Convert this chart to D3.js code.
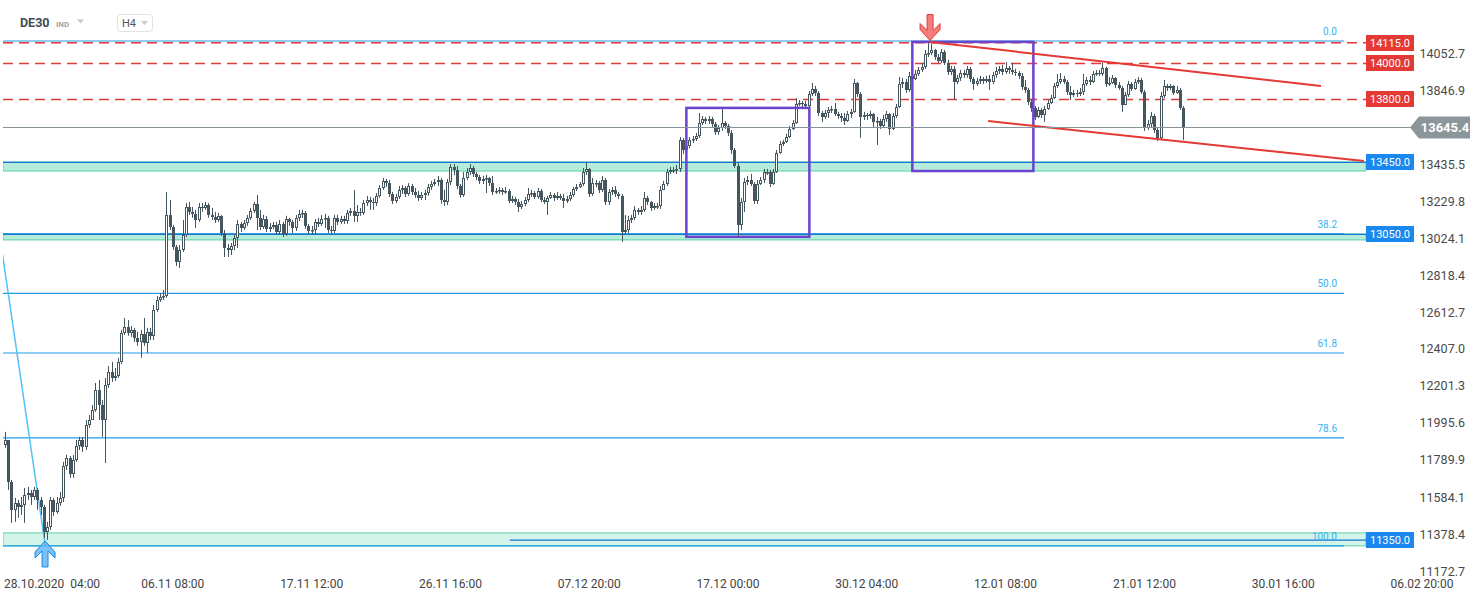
<!DOCTYPE html>
<html lang="en">
<head>
<meta charset="utf-8">
<title>DE30 H4</title>
<script src="https://cdnjs.cloudflare.com/ajax/libs/d3/7.8.5/d3.min.js"></script>
<style>
  body { margin: 0; background: #fff; }
  svg { display: block; font-family: Roboto, Arial, sans-serif; }
</style>
</head>
<body>
<script>
var W = 1482, H = 598;

// H4 candles, opens follow the previous close
var firstOpen = 11879;
var closes = [
11907,11674,11518,11557,11535,11546,11601,11612,11590,11629,
11574,11535,11396,11423,11574,11507,11557,11585,11763,11807,
11718,11796,11874,11907,11868,11990,12018,12074,12185,12101,
12018,12213,12285,12252,12263,12341,12502,12535,12502,12519,
12475,12452,12497,12446,12508,12486,12630,12685,12702,12708,
13158,13091,12980,12897,12963,13046,13202,13175,13164,13130,
13202,13197,13213,13158,13147,13130,13153,13057,12975,12963,
12986,13030,13108,13086,13113,13142,13180,13219,13142,13091,
13136,13080,13091,13102,13063,13108,13052,13136,13119,13086,
13142,13164,13169,13097,13068,13074,13119,13108,13136,13142,
13074,13068,13142,13119,13136,13124,13169,13180,13153,13175,
13169,13224,13241,13230,13224,13264,13308,13346,13335,13275,
13235,13258,13297,13308,13275,13319,13286,13269,13253,13269,
13280,13313,13330,13341,13352,13241,13230,13341,13425,13408,
13319,13269,13364,13397,13420,13386,13369,13346,13358,13364,
13335,13286,13291,13297,13286,13291,13235,13247,13230,13202,
13219,13241,13275,13280,13258,13291,13241,13230,13253,13269,
13253,13264,13253,13235,13247,13269,13302,13313,13330,13397,
13414,13275,13335,13335,13297,13352,13230,13286,13297,13275,
13264,13063,13074,13130,13142,13186,13175,13186,13253,13230,
13197,13208,13208,13297,13330,13397,13408,13408,13414,13575,
13519,13542,13575,13580,13597,13669,13692,13680,13692,13664,
13619,13642,13669,13653,13613,13519,13431,13102,13230,13341,
13352,13330,13235,13330,13352,13397,13397,13330,13397,13502,
13553,13564,13591,13636,13669,13775,13780,13775,13764,13831,
13858,13836,13725,13703,13725,13742,13747,13720,13709,13698,
13680,13720,13731,13891,13831,13703,13714,13709,13720,13675,
13680,13653,13692,13720,13636,13709,13758,13886,13897,13853,
13931,13914,13942,13964,13980,14053,14058,14075,14036,14013,
14064,14002,13953,13969,13897,13920,13947,13936,13969,13914,
13886,13902,13914,13902,13914,13897,13936,13958,13969,13953,
13975,13964,13953,13947,13931,13869,13853,13786,13753,13703,
13742,13714,13747,13780,13809,13875,13897,13914,13897,13842,
13825,13836,13831,13842,13886,13908,13897,13942,13947,13942,
13975,13886,13891,13920,13880,13864,13769,13825,13886,13858,
13897,13908,13842,13642,13664,13709,13630,13586,13820,13875,
13864,13875,13836,13853,13753,13645.4
];
var highs = [
11952,11907,11685,11585,11574,11590,11640,11646,11629,11646,
11640,11590,11546,11451,11590,11585,11590,11618,11785,11824,
11818,11824,11907,11924,11924,12018,12046,12101,12224,12241,
12129,12252,12318,12341,12307,12363,12519,12585,12574,12541,
12530,12508,12519,12585,12530,12530,12658,12708,12724,12741,
13286,13241,13102,12991,12991,13130,13224,13230,13202,13186,
13224,13224,13230,13224,13197,13175,13169,13158,13074,12996,
13002,13046,13130,13119,13130,13158,13197,13230,13269,13186,
13158,13153,13113,13119,13119,13130,13119,13153,13142,13130,
13158,13186,13186,13180,13108,13097,13136,13142,13158,13164,
13153,13097,13158,13158,13153,13153,13186,13197,13297,13213,
13197,13241,13264,13258,13253,13280,13324,13364,13358,13352,
13286,13275,13319,13324,13319,13335,13330,13308,13291,13286,
13297,13330,13347,13358,13375,13364,13297,13358,13441,13441,
13430,13330,13397,13419,13441,13430,13397,13380,13375,13380,
13369,13375,13308,13313,13308,13313,13302,13264,13258,13247,
13236,13258,13308,13297,13291,13308,13302,13258,13264,13286,
13280,13286,13275,13275,13264,13286,13313,13330,13341,13419,
13447,13419,13364,13352,13347,13375,13364,13302,13313,13319,
13286,13275,13158,13153,13158,13208,13197,13208,13286,13264,
13236,13224,13224,13319,13347,13414,13425,13425,13436,13591,
13586,13575,13591,13597,13614,13725,13708,13703,13708,13703,
13675,13658,13758,13680,13664,13630,13530,13447,13253,13364,
13375,13386,13341,13352,13369,13414,13414,13408,13414,13519,
13569,13575,13608,13653,13686,13808,13797,13792,13792,13847,
13892,13875,13847,13736,13742,13758,13764,13780,13731,13725,
13725,13736,13747,13914,13897,13842,13731,13725,13736,13725,
13703,13692,13714,13736,13725,13725,13775,13925,13920,13914,
13953,13970,13964,13981,14003,14075,14122,14108,14081,14053,
14081,14075,14020,13986,13986,13936,13964,13964,13986,13981,
13925,13920,13931,13925,13931,13936,13953,13981,13986,13992,
14008,13986,14003,13970,13958,13947,13908,13864,13803,13764,
13758,13753,13764,13797,13825,13892,13942,13947,13931,13908,
13875,13853,13853,13864,13942,13925,13931,13958,13964,13964,
14003,13981,13925,13936,13925,13897,13875,13842,13903,13897,
13914,13925,13920,13853,13686,13731,13720,13642,13842,13908,
13886,13886,13880,13875,13864,13764
];
var lows = [
11863,11629,11446,11451,11473,11490,11446,11574,11546,11574,
11518,11490,11362,11351,11407,11485,11496,11540,11562,11740,
11696,11696,11785,11851,11840,11851,11974,12018,12063,12018,
11924,11779,12196,12230,12235,12252,12330,12491,12486,12480,
12452,12430,12363,12430,12391,12463,12463,12619,12674,12685,
12697,13074,12963,12874,12863,12952,13035,13158,13142,13086,
13119,13175,13186,13142,13130,13113,13119,13041,12924,12924,
12935,12963,12974,13063,13074,13097,13130,13169,13074,13074,
13080,13063,13063,13080,13047,13052,13035,13041,13097,13058,
13069,13124,13142,13080,13052,13052,13047,13091,13097,13086,
13058,13052,13058,13102,13108,13108,13108,13153,13119,13119,
13153,13158,13208,13186,13186,13208,13253,13297,13313,13258,
13219,13224,13247,13275,13258,13264,13269,13253,13236,13241,
13241,13264,13297,13319,13319,13219,13208,13213,13324,13380,
13302,13253,13258,13352,13380,13369,13352,13330,13330,13280,
13319,13269,13275,13275,13269,13275,13224,13224,13213,13175,
13191,13208,13230,13258,13247,13247,13230,13219,13158,13247,
13236,13241,13241,13197,13224,13236,13258,13291,13308,13319,
13380,13258,13264,13313,13280,13286,13213,13213,13269,13258,
13247,13008,13052,13058,13113,13130,13158,13158,13175,13213,
13180,13186,13191,13191,13297,13319,13386,13391,13386,13397,
13497,13508,13530,13558,13569,13586,13658,13664,13664,13647,
13603,13603,13625,13636,13597,13497,13419,13035,13074,13175,
13324,13319,13219,13219,13324,13335,13380,13313,13324,13391,
13497,13541,13558,13586,13630,13664,13764,13758,13753,13753,
13819,13819,13708,13675,13692,13697,13725,13708,13692,13675,
13658,13675,13697,13725,13814,13586,13686,13686,13692,13647,
13547,13636,13642,13675,13603,13630,13697,13753,13864,13836,
13842,13897,13908,13931,13953,13970,14036,14047,14020,14003,
14003,13992,13936,13936,13797,13886,13903,13920,13920,13897,
13853,13875,13886,13886,13892,13853,13886,13920,13942,13936,
13942,13942,13936,13931,13914,13853,13836,13769,13731,13686,
13697,13697,13675,13742,13775,13803,13864,13886,13886,13825,
13797,13814,13814,13819,13825,13875,13880,13892,13931,13931,
13931,13869,13875,13886,13864,13853,13731,13775,13814,13847,
13853,13886,13831,13625,13630,13642,13614,13569,13575,13808,
13847,13853,13825,13831,13742,13575
];

// axes
var priceTicks = [14052.7, 13846.9, 13435.5, 13229.8, 13024.1, 12818.4, 12612.7,
                  12407.0, 12201.3, 11995.6, 11789.9, 11584.1, 11378.4, 11172.7];
var timeTickIdx = [9, 52, 95, 138, 181, 224, 267, 310, 353, 396, 439];
var timeTickText = ["28.10.2020  04:00", "06.11 08:00", "17.11 12:00", "26.11 16:00", "07.12 20:00",
                    "17.12 00:00", "30.12 04:00", "12.01 08:00", "21.01 12:00", "30.01 16:00", "06.02 20:00"];
var lastPrice = 13645.4;

// drawing tools
var redLevels = [14115, 14000, 13800];
var blueLevels = [13450, 13050, 11350];
var blueLevelStart = [-2, -2, 156.4];
var zones = [[13452, 13402], [13052, 13019], [11390, 11318]];
var fibHigh = 14125, fibLow = 11318;
var fibRatios = [0, 38.2, 50, 61.8, 78.6, 100];
var fibLabels = ["0.0", "38.2", "50.0", "61.8", "78.6", "100.0"];
var fibAnchor = [[-10.5, 14125], [12.5, 11318]];
var boxes = [[211.1, 249.2, 13753, 13036], [281.1, 318.6, 14120, 13402]];
var channel = [[[286.4, 14120], [407.7, 13875]], [[304.6, 13680], [421, 13458]]];

var candleColor = "#46565f";
var fibColor = "#1e9be8";

var x = d3.scaleLinear().domain([0, 439]).range([5, 1422]);
var y = d3.scaleLinear().domain([11172.7, 14052.7]).range([572, 54]);

var svg = d3.select("body").append("svg")
            .attr("width", W).attr("height", H);

svg.append("defs").append("clipPath").attr("id", "plot")
   .append("rect").attr("x", 3).attr("y", 0).attr("width", 1363).attr("height", 578);

var plot = svg.append("g").attr("clip-path", "url(#plot)");

// green support/resistance zones
plot.selectAll(".zone").data(zones).enter().append("rect")
    .attr("x", 3).attr("width", 1363)
    .attr("y", function(d) { return y(d[0]); })
    .attr("height", function(d) { return y(d[1]) - y(d[0]); })
    .attr("fill", function(d, i) { return i == 2 ? "#d3f5e9" : "#b6ecda"; })
    .attr("stroke", "#5ccfa5").attr("stroke-width", 1);

// fibonacci levels
var fibY = function(r) { return y(fibHigh - (fibHigh - fibLow) * r / 100); };
plot.selectAll(".fib").data(fibRatios).enter().append("line")
    .attr("x1", 3).attr("x2", 1344)
    .attr("y1", function(d) { return fibY(d); })
    .attr("y2", function(d) { return fibY(d); })
    .attr("stroke", fibColor).attr("stroke-width", 1.2);

svg.selectAll(".fibtxt").data(fibRatios).enter().append("text")
   .attr("x", 1337).attr("y", function(d) { return fibY(d) - 6; })
   .attr("text-anchor", "end").attr("font-size", "10px").attr("fill", "#35b3f0")
   .text(function(d, i) { return fibLabels[i]; });

plot.append("line")
    .attr("x1", x(fibAnchor[0][0])).attr("y1", y(fibAnchor[0][1]))
    .attr("x2", x(fibAnchor[1][0])).attr("y2", y(fibAnchor[1][1]))
    .attr("stroke", "#4fc3f7").attr("stroke-width", 1.5);

// blue horizontal levels
plot.selectAll(".blvl").data(blueLevels).enter().append("line")
    .attr("x1", function(d, i) { return x(blueLevelStart[i]); }).attr("x2", 1366)
    .attr("y1", function(d) { return y(d); }).attr("y2", function(d) { return y(d); })
    .attr("stroke", "#1976d2").attr("stroke-width", 1.2);

// red dashed levels
plot.selectAll(".rlvl").data(redLevels).enter().append("line")
    .attr("x1", 3).attr("x2", 1366)
    .attr("y1", function(d) { return y(d); })
    .attr("y2", function(d) { return y(d); })
    .attr("stroke", "#e53935").attr("stroke-width", 1.4)
    .attr("stroke-dasharray", "10,6");

// last price line
svg.append("line")
   .attr("x1", 3).attr("x2", 1412)
   .attr("y1", Math.round(y(lastPrice)) + 0.5).attr("y2", Math.round(y(lastPrice)) + 0.5)
   .attr("stroke", "#86939a").attr("stroke-width", 1);

// candles
var bars = closes.map(function(c, i) {
    var o = i == 0 ? firstOpen : closes[i - 1];
    return { i: i, o: o, c: c,
             h: Math.max(highs[i], o, c), l: Math.min(lows[i], o, c) };
});

var cg = plot.append("g");
bars.forEach(function(d) {
    var cx = Math.round(x(d.i)) + 0.5;
    var yTop = Math.round(y(Math.max(d.o, d.c)));
    var yBot = Math.round(y(Math.min(d.o, d.c)));
    var bh = Math.max(1, yBot - yTop);
    cg.append("line")
      .attr("x1", cx).attr("x2", cx)
      .attr("y1", y(d.h)).attr("y2", y(d.l))
      .attr("stroke", candleColor).attr("stroke-width", 1);
    if (d.c < d.o) {
        cg.append("rect")
          .attr("x", cx - 1.5).attr("y", yTop).attr("width", 3).attr("height", bh)
          .attr("fill", candleColor);
    } else {
        cg.append("rect")
          .attr("x", cx - 1).attr("y", yTop + 0.5).attr("width", 2).attr("height", Math.max(0.5, bh - 1))
          .attr("fill", "#fff").attr("stroke", candleColor).attr("stroke-width", 1);
    }
});

// purple rectangles
plot.selectAll(".box").data(boxes).enter().append("rect")
    .attr("x", function(d) { return x(d[0]); })
    .attr("width", function(d) { return x(d[1]) - x(d[0]); })
    .attr("y", function(d) { return y(d[2]); })
    .attr("height", function(d) { return y(d[3]) - y(d[2]); })
    .attr("fill", "none").attr("stroke", "#6a44cc").attr("stroke-width", 2.5);

// red channel
plot.selectAll(".chan").data(channel).enter().append("line")
    .attr("x1", function(d) { return x(d[0][0]); }).attr("y1", function(d) { return y(d[0][1]); })
    .attr("x2", function(d) { return x(d[1][0]); }).attr("y2", function(d) { return y(d[1][1]); })
    .attr("stroke", "#e53935").attr("stroke-width", 2);

// arrows at the extremes
var arrowPath = "M0,0 L-10,-11 L-10,-17 L-3,-10 L-3,-26 L3,-26 L3,-10 L10,-17 L10,-11 Z";
svg.append("path").attr("d", arrowPath)
   .attr("transform", "translate(" + x(286.6) + "," + (y(14122) - 1) + ")")
   .attr("fill", "rgba(239,83,80,0.75)").attr("stroke", "#e53935").attr("stroke-width", 1);
svg.append("path").attr("d", arrowPath)
   .attr("transform", "translate(" + x(12.4) + "," + (y(11351) + 1) + ") rotate(180)")
   .attr("fill", "rgba(100,181,246,0.85)").attr("stroke", "#1e88e5").attr("stroke-width", 1);

// level label boxes
var boxLabel = function(v, color) {
    var g = svg.append("g").attr("transform", "translate(1366," + Math.round(y(v)) + ")");
    g.append("rect").attr("x", 0).attr("y", -8).attr("width", 48).attr("height", 16).attr("fill", color);
    g.append("text").attr("x", 24).attr("y", 4).attr("text-anchor", "middle")
     .attr("font-size", "11px").attr("fill", "#fff").text(v.toFixed(1));
};
redLevels.forEach(function(v) { boxLabel(v, "#e53935"); });
blueLevels.forEach(function(v) { boxLabel(v, "#1a88ee"); });

// price axis
svg.selectAll(".ptick").data(priceTicks).enter().append("text")
   .attr("x", 1465).attr("y", function(d) { return y(d) + 3.5; })
   .attr("text-anchor", "end").attr("font-size", "12.5px").attr("fill", "#4a4a4a")
   .text(function(d) { return d.toFixed(1); });

var lp = svg.append("g").attr("transform", "translate(0," + Math.round(y(lastPrice)) + ")");
lp.append("path").attr("d", "M1410,0.5 L1419,-10.5 L1470,-10.5 L1470,11.5 L1419,11.5 Z").attr("fill", "#8b969b");
lp.append("text").attr("x", 1445).attr("y", 5).attr("text-anchor", "middle")
  .attr("font-size", "13px").attr("font-weight", "bold").attr("fill", "#fff")
  .text(lastPrice.toFixed(1));

// time axis
svg.selectAll(".ttick").data(timeTickIdx).enter().append("text")
   .attr("x", function(d, i) { return i == 0 ? 4 : x(d); })
   .attr("y", 588)
   .attr("text-anchor", function(d, i) { return i == 0 ? "start" : "middle"; })
   .attr("font-size", "12px").attr("fill", "#444")
   .style("white-space", "pre")
   .text(function(d, i) { return timeTickText[i]; });

// header
svg.append("text").attr("x", 20).attr("y", 27).attr("font-size", "12.5px").attr("font-weight", "bold")
   .attr("fill", "#3f4d55").text("DE30");
svg.append("text").attr("x", 56).attr("y", 27).attr("font-size", "8px").attr("font-weight", "bold")
   .attr("fill", "#9aa6ac").text("IND");
svg.append("path").attr("d", "M77,19.5 L84,19.5 L80.5,23.5 Z").attr("fill", "#c3c9cc");
svg.append("rect").attr("x", 117.5).attr("y", 14.5).attr("width", 35).attr("height", 17).attr("rx", 3)
   .attr("fill", "#fff").attr("stroke", "#e0e3e5");
svg.append("text").attr("x", 122).attr("y", 27).attr("font-size", "11px").attr("fill", "#555").text("H4");
svg.append("path").attr("d", "M141,21 L148,21 L144.5,25 Z").attr("fill", "#c3c9cc");
</script>
</body>
</html>
